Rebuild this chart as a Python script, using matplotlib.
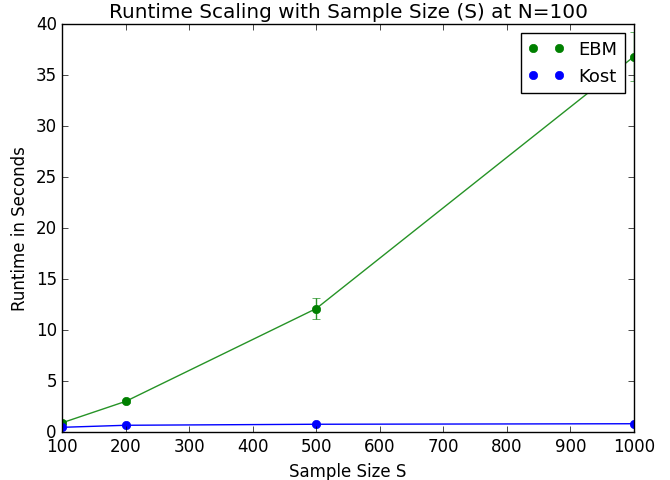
import matplotlib
matplotlib.use("Agg")
import matplotlib.pyplot as plt

plt.style.use("classic")

sizes = [100, 200, 500, 1000]
ebm_mean = [0.9, 3.0, 12.1, 36.8]
ebm_err = [0.1, 0.15, 1.0, 2.4]
kost_mean = [0.45, 0.65, 0.75, 0.8]
kost_err = [0.02, 0.03, 0.03, 0.03]

fig = plt.figure(figsize=(6.7, 4.81), dpi=100)
ax = fig.add_axes([0.093, 0.1, 0.853, 0.848])

ax.errorbar(sizes, ebm_mean, yerr=ebm_err, fmt="-", color="g", ecolor="g", alpha=0.85)
ax.plot(sizes, ebm_mean, "o", color="g", markeredgecolor="g", label="EBM")
ax.errorbar(sizes, kost_mean, yerr=kost_err, fmt="-", color="b", ecolor="b")
ax.plot(sizes, kost_mean, "o", color="b", markeredgecolor="b", label="Kost")

ax.set_xlim(100, 1000)
ax.set_ylim(0, 40)
ax.set_title("Runtime Scaling with Sample Size (S) at N=100")
ax.set_xlabel("Sample Size S")
ax.set_ylabel("Runtime in Seconds")
ax.legend(loc="upper right", numpoints=2, fontsize=13)

fig.savefig("out.png", dpi=100)
